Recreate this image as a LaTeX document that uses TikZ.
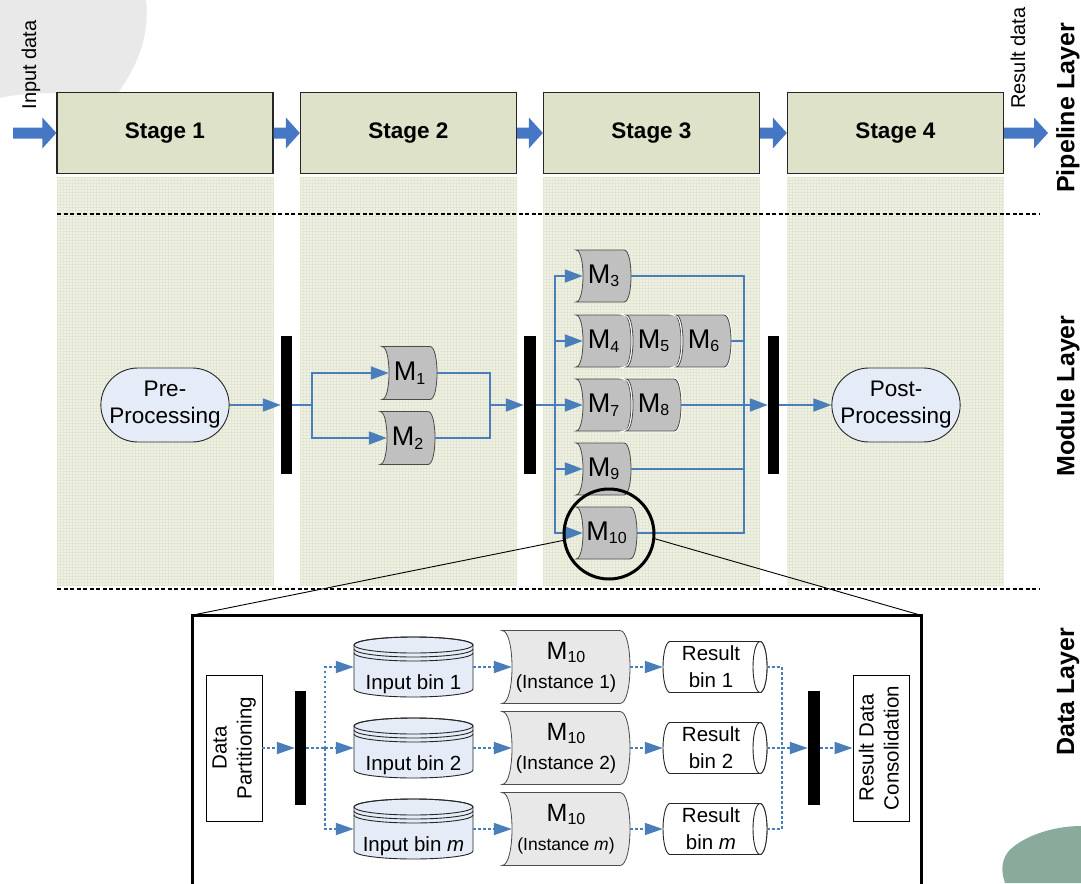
\documentclass[tikz,border=0pt]{standalone}
\usepackage{fontspec}
\usepackage{graphicx}
\setmainfont{Liberation Sans}
\usetikzlibrary{arrows.meta,calc,shapes.misc}
\definecolor{stagefill}{HTML}{DDE2C9}
\definecolor{colfill}{HTML}{EFF1E4}
\definecolor{gridc}{HTML}{E2E6D3}
\definecolor{lineblue}{HTML}{4A7EBB}
\definecolor{arrowblue}{HTML}{4677C4}
\definecolor{procfill}{HTML}{E6ECF7}
\definecolor{modfill}{HTML}{C0C0C0}
\definecolor{instfill}{HTML}{E8E8E8}
\definecolor{blobgray}{HTML}{E9E9E9}
\definecolor{blobgreen}{HTML}{8AAB9B}

\newcommand\fsz[2]{\fontsize{#1}{#2}\selectfont}
\newcommand\msub[1]{\raisebox{-3.5pt}{\fsz{16}{16}#1}}

% module shape: name, cx, cy, w, h, bulge, options, text
\newcommand\mmodbox[8]{%
 \draw[modoutline,#7] ({#2-#4/2},{#3-#5/2}) -- ({#2+#4/2-#6},{#3-#5/2})
   .. controls ({#2+#4/2+#6/3},{#3-#5/2}) and ({#2+#4/2+#6/3},{#3+#5/2}) .. ({#2+#4/2-#6},{#3+#5/2})
   -- ({#2-#4/2},{#3+#5/2})
   .. controls ({#2-#4/2+4*#6/3},{#3+#5/2}) and ({#2-#4/2+4*#6/3},{#3-#5/2}) .. cycle;
 \node[modtext, minimum width=#4pt, minimum height=#5pt] (#1) at (#2,#3) {#8};
}
% input bin cylinder: name, cx, cy, text
\newcommand\inbin[4]{%
 \draw[binline] ({#2-59.5},{#3-22}) -- ({#2-59.5},{#3+22})
   arc[start angle=180,end angle=360,x radius=59.5pt,y radius=8pt]
   -- ({#2+59.5},{#3-22})
   arc[start angle=0,end angle=180,x radius=59.5pt,y radius=8pt] -- cycle;
 \draw[binline,fill=none] ({#2},{#3-22}) ellipse [x radius=59.5pt, y radius=8pt];
 \draw[binline,fill=none] ({#2-59.5},{#3-18}) arc[start angle=180,end angle=360,x radius=59.5pt,y radius=8pt];
 \draw[binline,fill=none] ({#2-59.5},{#3-14}) arc[start angle=180,end angle=360,x radius=59.5pt,y radius=8pt];
 \node[draw=none, minimum width=119pt, minimum height=60pt, inner sep=0pt] (#1) at (#2,#3) {};
 \node[font=\fsz{20.5}{24}, inner sep=0pt] (#1t) at ({#2},{#3+17}) {#4};
}
% result bin horizontal cylinder: name, cx, cy, text
\newcommand\resbin[4]{%
 \draw[rbline] ({#2+45},{#3-25.5}) -- ({#2-45},{#3-25.5})
   arc[start angle=90,end angle=270,x radius=7pt,y radius=25.5pt]
   -- ({#2+45},{#3+25.5})
   arc[start angle=-90,end angle=90,x radius=7pt,y radius=25.5pt] -- cycle;
 \draw[rbline] ({#2+45},{#3}) ellipse [x radius=7pt, y radius=25.5pt];
 \node[draw=none, minimum width=104pt, minimum height=51pt, inner sep=0pt] (#1) at (#2,#3) {};
 \node[font=\fsz{20.5}{27}, align=center, inner sep=0pt] (#1t) at ({#2-4},{#3}) {#4};
}
\newcommand\blockarrow[2]{%
 \fill[arrowblue] let \p1=(#1), \p2=(#2) in
  (\x1,\y1+5.5pt) -- (\x2-14pt,\y1+5.5pt) -- (\x2-14pt,\y1+15.5pt) -- (\x2,\y1)
  -- (\x2-14pt,\y1-15.5pt) -- (\x2-14pt,\y1-5.5pt) -- (\x1,\y1-5.5pt) -- cycle;}

\begin{document}
\begin{tikzpicture}[x=1pt,y=-1pt,
 stagebox/.style={draw=black!85, line width=1.3pt, fill=stagefill, minimum width=216pt, minimum height=81pt, inner sep=0pt, font=\bfseries\fsz{22.5}{26}},
 barnode/.style={fill=black, draw=none, minimum width=11pt, inner sep=0pt},
 mline/.style={draw=lineblue, line width=1.8pt},
 marr/.style={mline, -{Triangle[length=18pt,width=13pt]}},
 dline/.style={draw=lineblue, line width=1.8pt, dash pattern=on 2.5pt off 2.5pt},
 darr/.style={dline, -{Triangle[length=18pt,width=12pt]}},
 procbox/.style={rounded rectangle, draw=black!85, line width=0.9pt, fill=procfill, minimum width=120pt, minimum height=74pt, align=center, font=\fsz{22.5}{27}, inner sep=0pt},
 modoutline/.style={draw=black!70, line width=0.8pt},
 halo/.style={preaction={draw=white, line width=2.8pt}},
 modtext/.style={draw=none, inner sep=0pt, align=center, font=\fsz{27}{28}},
 binline/.style={draw=black!85, line width=0.9pt, fill=procfill},
 rbline/.style={draw=black!85, line width=0.9pt, fill=white},
 textbox/.style={draw=black, line width=0.9pt, fill=white, inner sep=0pt, align=center, font=\fsz{20.5}{25}},
 layersep/.style={black, line width=1.6pt, dash pattern=on 4pt off 2.5pt},
 layerlabel/.style={rotate=90, inner sep=0pt, font=\bfseries\fsz{25}{28}},
 iolabel/.style={rotate=90, inner sep=0pt, font=\fsz{20}{24}},
]
\useasboundingbox (0,0) rectangle (1081,883);
\clip (0,0) rectangle (1081,883);

% background blobs
\fill[blobgray] (0,0) -- (146,0) .. controls (150,35) and (138,65) .. (118,93) -- (57,93)
  .. controls (30,93) and (12,95) .. (0,98) -- cycle;
\fill[blobgreen] (1081,826) .. controls (1050,826) and (1020,838) .. (1008,852)
  .. controls (1000,862) and (1002,875) .. (1005,883) -- (1081,883) -- cycle;

% stage columns
\foreach \cx in {57,300,543,787} {
  \fill[colfill] (\cx,177) rectangle ({\cx+217},585);
  \draw[gridc, line width=0.5pt, step=3pt] (\cx,177) grid ({\cx+217},585);
}

% layer separators
\draw[layersep] (57,214) -- (1040,214);
\draw[layersep] (57,589) -- (1040,589);

% pipeline layer
\node[stagebox] (st1) at (165,133) {Stage 1};
\node[stagebox] (st2) at (408.5,133) {Stage 2};
\node[stagebox] (st3) at (651.5,133) {Stage 3};
\node[stagebox] (st4) at (895.5,133) {Stage 4};
\coordinate (inp) at (13,133);
\coordinate (outp) at (1048,133);
\blockarrow{inp}{st1.west}
\blockarrow{st1.east}{st2.west}
\blockarrow{st2.east}{st3.west}
\blockarrow{st3.east}{st4.west}
\blockarrow{st4.east}{outp}

\node[iolabel] (lin) at (31,65) {Input data};
\node[iolabel] (lout) at (1018,58) {Result data};

% module layer
\node[procbox] (pre) at (165,405) {Pre-\\Processing};
\node[procbox] (post) at (896,405) {Post-\\Processing};
\node[barnode, minimum height=138pt] (bar1) at (286.5,405) {};
\node[barnode, minimum width=12pt, minimum height=138pt] (bar2) at (530,405) {};
\node[barnode, minimum height=138pt] (bar3) at (773.5,405) {};

\mmodbox{m1}{409.5}{373}{55}{53}{7}{fill=modfill}{M\msub{1}}
\mmodbox{m2}{407.5}{438}{55}{53}{7}{fill=modfill}{M\msub{2}}
\mmodbox{m3}{603.5}{276}{55}{52}{7}{fill=modfill}{M\msub{3}}
\mmodbox{m4}{603.5}{341}{55}{52}{7}{fill=modfill}{M\msub{4}}
\mmodbox{m5}{653.5}{341}{55}{52}{7}{fill=modfill,halo}{M\msub{5}}
\mmodbox{m6}{703.5}{341}{55}{52}{7}{fill=modfill,halo}{M\msub{6}}
\mmodbox{m7}{603.5}{405}{55}{52}{7}{fill=modfill}{M\msub{7}}
\mmodbox{m8}{653.5}{405}{55}{52}{7}{fill=modfill,halo}{M\msub{8}}
\mmodbox{m9}{603.5}{469}{55}{52}{7}{fill=modfill}{M\msub{9}}
\mmodbox{m10}{606.5}{533}{61}{52}{7}{fill=modfill}{M\msub{10}}

\coordinate (s1) at (312,405);
\coordinate (j1) at (490,405);
\coordinate (b2) at (555,405);
\coordinate (j2) at (744,405);

\draw[marr] (pre.east) -- (bar1.west);
\draw[mline] (bar1.east) -- (s1);
\draw[marr] (s1) |- ([xshift=7pt]m1.west);
\draw[marr] (s1) |- ([xshift=7pt]m2.west);
\draw[mline] (m1.east) -| (j1);
\draw[mline] (m2.east) -| (j1);
\draw[marr] (j1) -- (bar2.west);
\draw[mline] (bar2.east) -- (b2);
\draw[marr] (b2) |- ([xshift=7pt]m3.west);
\draw[marr] (b2) |- ([xshift=7pt]m4.west);
\draw[marr] (bar2.east) -- ([xshift=7pt]m7.west);
\draw[marr] (b2) |- ([xshift=7pt]m9.west);
\draw[marr] (b2) |- ([xshift=7pt]m10.west);
\draw[mline] (m3.east) -| (j2);
\draw[mline] (m6.east) -| (j2);
\draw[mline] (m9.east) -| (j2);
\draw[mline] (m10.east) -| (j2);
\draw[marr] (m8.east) -- (bar3.west);
\draw[marr] (bar3.east) -- (post.west);

% magnifier
\node[draw=black, circle, line width=3pt, minimum size=90pt, inner sep=0pt] (zc) at (609,534) {};
\coordinate (dtl) at (193,615);
\coordinate (dtr) at (920,615);
\draw[black, line width=0.9pt] (zc.188) -- (dtl);
\draw[black, line width=0.9pt] (zc.-6) -- (dtr);

% data layer
\filldraw[fill=white, draw=black, line width=3pt] (192,615) rectangle (921,905);

\node[textbox, minimum width=56pt, minimum height=146pt] (dp) at (234,748)
  {\rotatebox{90}{\begin{tabular}{@{}c@{}}Data\\Partitioning\end{tabular}}};
\node[textbox, minimum width=56pt, minimum height=146pt] (rdc) at (881,748)
  {\rotatebox{90}{\begin{tabular}{@{}c@{}}Result Data\\Consolidation\end{tabular}}};
\node[barnode, minimum height=114pt] (bar4) at (300.5,748) {};
\node[barnode, minimum width=12pt, minimum height=114pt] (bar5) at (814,748) {};

\inbin{bin1}{413.5}{667}{Input bin 1}
\inbin{bin2}{413.5}{748}{Input bin 2}
\inbin{binm}{413.5}{829}{Input bin \textit{m}}

\mmodbox{in1}{566}{667}{128}{73}{10}{fill=instfill}{{\fsz{25}{25}M\msub{10}}\\[1pt]{\fsz{19}{23}(Instance 1)}}
\mmodbox{in2}{566}{748}{128}{73}{10}{fill=instfill}{{\fsz{25}{25}M\msub{10}}\\[1pt]{\fsz{19}{23}(Instance 2)}}
\mmodbox{inm}{566}{829}{128}{73}{10}{fill=instfill}{{\fsz{25}{25}M\msub{10}}\\[1pt]{\fsz{17.5}{23}(Instance \textit{m})}}

\resbin{rb1}{715}{667}{Result\\bin 1}
\resbin{rb2}{715}{748}{Result\\bin 2}
\resbin{rbm}{715}{829}{Result\\bin \textit{m}}

\coordinate (jb) at (325,748);
\coordinate (jr) at (782,748);

\draw[darr] (dp.east) -- (bar4.west);
\draw[dline] (bar4.east) -- (jb);
\draw[darr] (jb) |- (bin1.west);
\draw[darr] (jb) -- (bin2.west);
\draw[darr] (jb) |- (binm.west);
\draw[darr] (bin1.east) -- ([xshift=10pt]in1.west);
\draw[darr] (bin2.east) -- ([xshift=10pt]in2.west);
\draw[darr] (binm.east) -- ([xshift=10pt]inm.west);
\draw[darr] (in1.east) -- (rb1.west);
\draw[darr] (in2.east) -- (rb2.west);
\draw[darr] (inm.east) -- (rbm.west);
\draw[dline] (rb1.east) -| (jr);
\draw[dline] (rbm.east) -| (jr);
\draw[dline] (rb2.east) -- (jr);
\draw[darr] (jr) -- (bar5.west);
\draw[darr] (bar5.east) -- (rdc.west);

% layer labels
\node[layerlabel] (lpipe) at (1068,108) {Pipeline Layer};
\node[layerlabel] (lmod) at (1068,396) {Module Layer};
\node[layerlabel] (ldata) at (1068,692) {Data Layer};
\end{tikzpicture}
\end{document}
